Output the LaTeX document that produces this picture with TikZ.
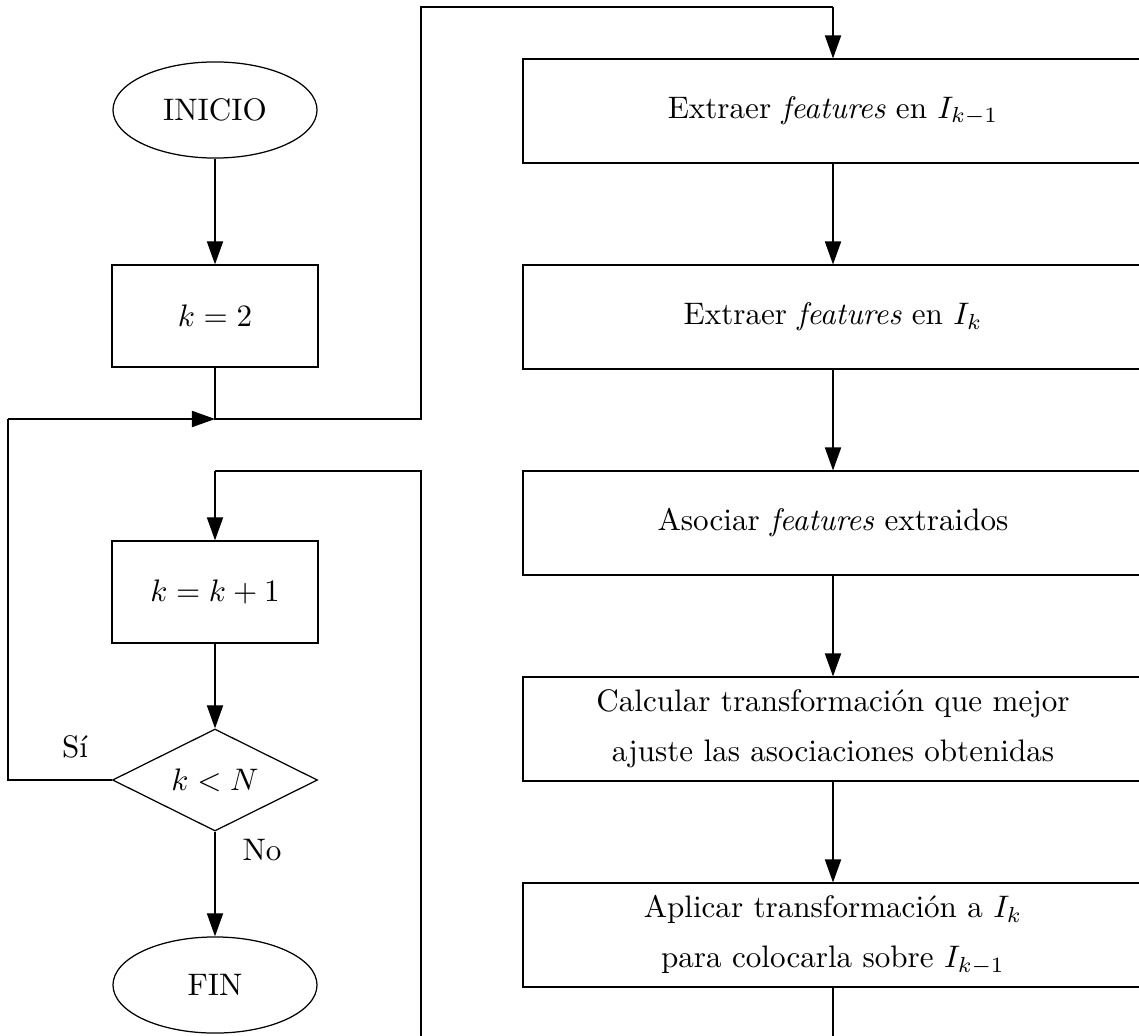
\documentclass[tikz,border=0pt]{standalone}
\usepackage{fontspec}
\usetikzlibrary{shapes.geometric,arrows.meta}
\begin{document}
\begin{tikzpicture}[x=0.3215pt,y=-0.3215pt,
  arr/.style={-{Triangle[length=7.4pt,width=5.2pt]}},
  lbox/.style={draw,rectangle,minimum width=66.2pt,minimum height=32.8pt,inner sep=0pt},
  rbox/.style={draw,rectangle,minimum width=199.3pt,minimum height=33.4pt,inner sep=0pt,align=center},
  term/.style={draw,ellipse,minimum width=65.6pt,minimum height=30.9pt,inner sep=0pt},
  cond/.style={draw,diamond,aspect=2,minimum width=65.9pt,minimum height=32.8pt,inner sep=0pt}]
\useasboundingbox (0,0) rectangle (1139,1035);
\clip (0,0) rectangle (1139,1035);
% left column
\node[term] (ini) at (215,110) {INICIO};
\node[lbox] (k2) at (215,316) {$k=2$};
\node[lbox] (kk) at (215,592) {$k=k+1$};
\node[cond] (cmp) at (215,780) {$k<N$};
\node[term] (fin) at (215,985) {FIN};
% right column
\node[rbox] (b1) at (833,111) {Extraer \emph{features} en $I_{k-1}$};
\node[rbox] (b2) at (833,317) {Extraer \emph{features} en $I_{k}$};
\node[rbox] (b3) at (833,523) {Asociar \emph{features} extraidos};
\node[rbox] (b4) at (833,729) {Calcular transformación que mejor\\[4pt]ajuste las asociaciones obtenidas};
\node[rbox] (b5) at (833,935) {Aplicar transformación a $I_k$\\[4pt]para colocarla sobre $I_{k-1}$};
% coordinates
\coordinate (j1) at (215,419);
\coordinate (c1) at (421,419);
\coordinate (c2) at (421,7);
\coordinate (c3) at (833,7);
\coordinate (c4) at (8,780);
\coordinate (c5) at (8,419);
\coordinate (d1) at (833,1045);
\coordinate (d2) at (421,1045);
\coordinate (d3) at (421,471);
\coordinate (d4) at (215,471);
% connectors
\draw[arr] (ini) -- (k2);
\draw (k2.south) -- (j1) -- (c1) -- (c2) -- (c3);
\draw[arr] (c3) -- (b1.north);
\draw[arr] (b1) -- (b2);
\draw[arr] (b2) -- (b3);
\draw[arr] (b3) -- (b4);
\draw[arr] (b4) -- (b5);
\draw (b5.south) -- (d1);
\draw (d2) -- (d3) -- (d4);
\draw[arr] (d4) -- (kk.north);
\draw[arr] (kk) -- (cmp);
\draw[arr] (cmp.south) -- (fin.north);
\draw (cmp.west) -- (c4) -- (c5);
\draw[arr] (c5) -- (j1);
% labels
\node (si) at (75,747) {Sí};
\node (no) at (262,850) {No};
\end{tikzpicture}
\end{document}
